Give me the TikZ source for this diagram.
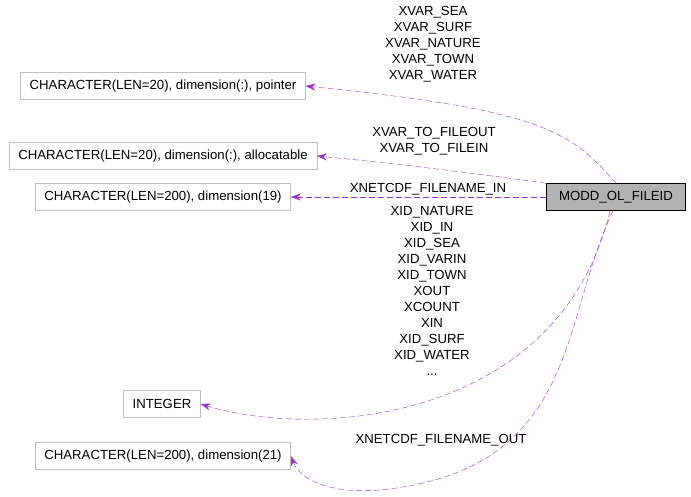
\documentclass[tikz,border=0pt]{standalone}
\usepackage{fontspec}
\setmainfont{Liberation Sans}
\usetikzlibrary{positioning, arrows.meta}
\definecolor{edgepurple}{HTML}{9A32CD}
\definecolor{boxgray}{HTML}{BFBFBF}
\tikzset{
type/.style = {draw=boxgray, fill=white, minimum height=27pt, inner xsep=9pt, font=\fontsize{13.2}{16}\selectfont},
mainbox/.style = {draw=black, fill=gray!60, minimum height=27pt, minimum width=139pt, font=\fontsize{13.2}{16}\selectfont},
link/.style = {edgepurple, dash pattern=on 6pt off 3pt, -{Stealth[length=10pt,width=7pt]}},
lbl/.style = {font=\fontsize{13.2}{16}\selectfont, align=center},
}

\begin{document}
\begin{tikzpicture}[x=1pt, y=-1pt]
    \useasboundingbox (0,0) rectangle (691,496);
    \node[mainbox] (main) at (616,197) {MODD\_OL\_FILEID};
    \node[type] (ptr) at (163,86) {CHARACTER(LEN=20), dimension(:), pointer};
    \node[type] (alloc) at (163,156) {CHARACTER(LEN=20), dimension(:), allocatable};
    \node[type] (d19) at (163,197) {CHARACTER(LEN=200), dimension(19)};
    \node[type] (int) at (162,404) {INTEGER};
    \node[type] (d21) at (163,456) {CHARACTER(LEN=200), dimension(21)};
    % links
    \draw[link] (main.north) .. controls (570,130) and (540,110) .. (ptr.east);
    \draw[link] (main.north west) .. controls (450,170) and (380,162) .. (alloc.east);
    \draw[link] (main.west) -- (d19.east);
    \draw[link] (610,211) .. controls (560,420) and (320,440) .. (int.east);
    \draw[link] (613,211) .. controls (560,320) and (580,470) .. (380,490) .. controls (330,494) and (300,480) .. (d21.east);
    % labels
    \node[lbl] (l1) at (433,44) {XVAR\_SEA\\XVAR\_SURF\\XVAR\_NATURE\\XVAR\_TOWN\\XVAR\_WATER};
    \node[lbl] (l2) at (434,141) {XVAR\_TO\_FILEOUT\\XVAR\_TO\_FILEIN};
    \node[lbl] (l3) at (428,189) {XNETCDF\_FILENAME\_IN};
    \node[lbl] (l4) at (432,291) {XID\_NATURE\\XID\_IN\\XID\_SEA\\XID\_VARIN\\XID\_TOWN\\XOUT\\XCOUNT\\XIN\\XID\_SURF\\XID\_WATER\\...};
    \node[lbl] (l5) at (441,440) {XNETCDF\_FILENAME\_OUT};
\end{tikzpicture}
\end{document}
